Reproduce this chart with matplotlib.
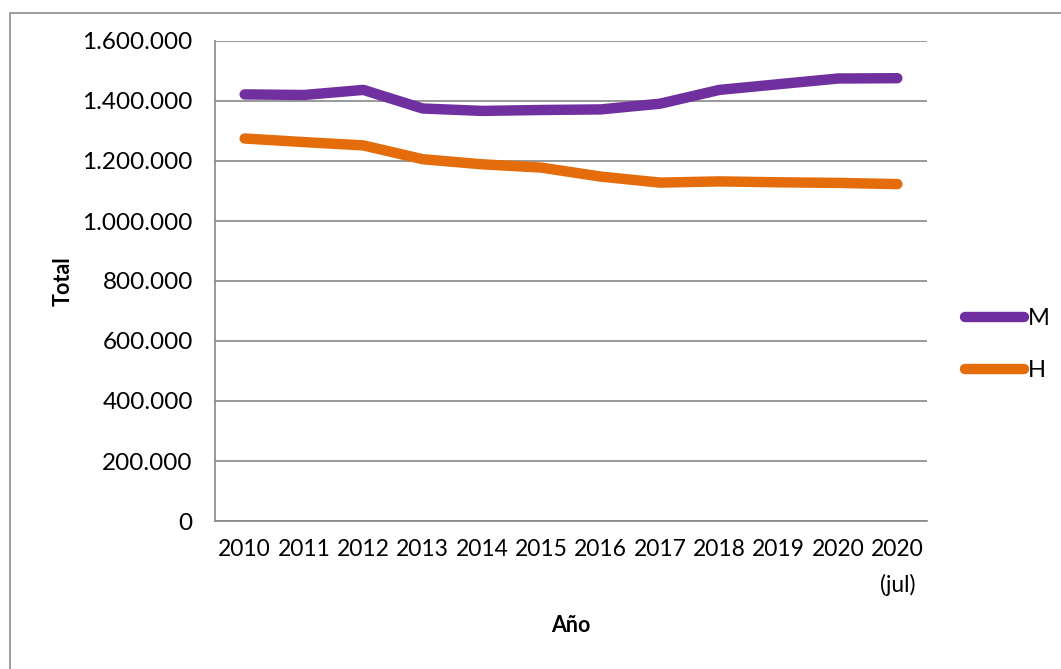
import matplotlib
matplotlib.use("Agg")
import matplotlib.pyplot as plt
from matplotlib.patches import Rectangle
from matplotlib.ticker import FuncFormatter

plt.rcParams['font.family'] = ['Lato', 'DejaVu Sans']

categories = ["2010", "2011", "2012", "2013", "2014", "2015", "2016", "2017",
              "2018", "2019", "2020", "2020\n(jul)"]
M = [1422000, 1420000, 1437000, 1375000, 1367000, 1370000, 1372000, 1391000,
     1437000, 1456000, 1475000, 1476000]
H = [1275000, 1263000, 1252000, 1206000, 1189000, 1178000, 1148000, 1128000,
     1132000, 1129000, 1127000, 1123000]
yticks = [0, 200000, 400000, 600000, 800000, 1000000, 1200000, 1400000, 1600000]

W, Hpx = 1061, 669
fig = plt.figure(figsize=(W / 100, Hpx / 100), dpi=100)
fig.add_artist(Rectangle((10 / W, -0.05), 1.2, 1 - 13 / Hpx + 0.05,
                         transform=fig.transFigure, fill=False,
                         edgecolor='#8c8c8c', linewidth=1.2))

ax = fig.add_axes([215 / W, 1 - 521 / Hpx, (927 - 215) / W, (521 - 41) / Hpx])
x = list(range(len(categories)))
ax.plot(x, M, color='#7030A0', linewidth=7.5, solid_capstyle='round',
        solid_joinstyle='round', label='M', zorder=3)
ax.plot(x, H, color='#E46C0A', linewidth=7.5, solid_capstyle='round',
        solid_joinstyle='round', label='H', zorder=3)

ax.set_xlim(-0.5, len(categories) - 0.5)
ax.set_ylim(0, 1600000)
ax.set_yticks(yticks)
ax.yaxis.set_major_formatter(FuncFormatter(lambda v, p: f"{int(v):,}".replace(",", ".")))
ax.set_xticks(x)
ax.set_xticklabels(categories, multialignment='center', linespacing=1.75)
ax.grid(axis='y', color='#878787', linewidth=1.2)
ax.set_axisbelow(True)
for s in ['top', 'right']:
    ax.spines[s].set_visible(False)
for s in ['left', 'bottom']:
    ax.spines[s].set_color('#878787')
    ax.spines[s].set_linewidth(1.2)
ax.tick_params(axis='y', length=0, pad=16, labelsize=17.5, labelcolor='black')
ax.tick_params(axis='x', length=0, pad=13, labelsize=16.5, labelcolor='black')

ax.set_ylabel('Total', fontsize=15.5, fontweight='bold', labelpad=6)
ax.set_xlabel('Año', fontsize=15.5, fontweight='bold', labelpad=14)

leg = ax.legend(loc='center left', bbox_to_anchor=(1.04, 0.367), frameon=False,
                fontsize=17, handlelength=2.5, handletextpad=0.15,
                labelspacing=1.3, borderaxespad=0)

fig.savefig('out.png', dpi=100)
